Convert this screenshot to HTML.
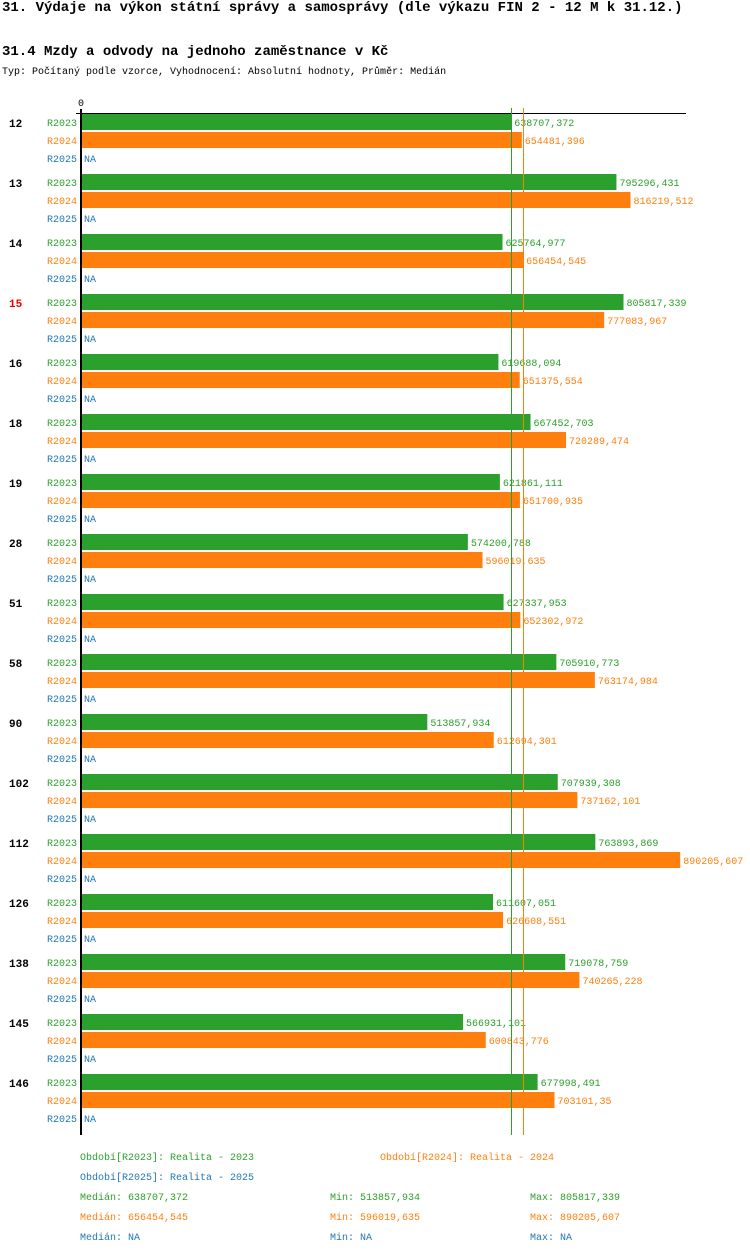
<!DOCTYPE html>
<html><head><meta charset="utf-8"><style>
body{margin:0;background:#fff;width:750px;height:1254px;overflow:hidden;font-family:"Liberation Mono","DejaVu Sans Mono",monospace}
.t{position:absolute;white-space:nowrap}
</style></head><body>
<div class="t" style="left:2px;top:0px;font-size:14px;font-weight:bold">31. Výdaje na výkon státní správy a samosprávy (dle výkazu FIN 2 - 12 M k 31.12.)</div>
<div class="t" style="left:2px;top:44px;font-size:14px;font-weight:bold">31.4 Mzdy a odvody na jednoho zaměstnance v Kč</div>
<div class="t" style="left:2px;top:67px;font-size:10px">Typ: Počítaný podle vzorce, Vyhodnocení: Absolutní hodnoty, Průměr: Medián</div>
<svg id="c" width="750" height="1254" style="position:absolute;left:0;top:0" font-family="Liberation Mono, DejaVu Sans Mono, monospace" font-size="11"></svg>
<script>
const categories=["12","13","14","15","16","18","19","28","51","58","90","102","112","126","138","145","146"];
const r2023=[638707.372,795296.431,625764.977,805817.339,619688.094,667452.703,621861.111,574200.788,627337.953,705910.773,513857.934,707939.308,763893.869,611607.051,719078.759,566931.101,677998.491];
const r2024=[654481.396,816219.512,656454.545,777083.967,651375.554,720289.474,651700.935,596019.635,652302.972,763174.984,612694.301,737162.101,890205.607,626608.551,740265.228,600843.776,703101.35];
const r2023Labels=["638707,372","795296,431","625764,977","805817,339","619688,094","667452,703","621861,111","574200,788","627337,953","705910,773","513857,934","707939,308","763893,869","611607,051","719078,759","566931,101","677998,491"];
const r2024Labels=["654481,396","816219,512","656454,545","777083,967","651375,554","720289,474","651700,935","596019,635","652302,972","763174,984","612694,301","737162,101","890205,607","626608,551","740265,228","600843,776","703101,35"];
const medians=[638707.372,656454.545];
const ns="http://www.w3.org/2000/svg";
const svg=document.getElementById('c');
const X0=82,K=0.000672;
const x=v=>X0+v*K;
const gy=i=>114+i*60;
function el(tag,attrs,txt){const e=document.createElementNS(ns,tag);for(const k in attrs)e.setAttribute(k,attrs[k]);if(txt!==undefined)e.textContent=txt;svg.appendChild(e);return e;}
const G="#2ca02c",O="#ff7f0e",B="#1f77b4";
let e=el('rect',{x:76,y:113,width:610,height:1,fill:"#000"});


e=el('text',{x:78,y:106,"font-size":10},"0");


categories.forEach((c,i)=>{
 const y=gy(i);
 e=el('text',{x:9,y:y+13,"font-weight":"bold",fill:c==="15"?"#e00":"#000"},c);
 
 
 [[r2023[i],r2023Labels[i],G,"R2023",0],[r2024[i],r2024Labels[i],O,"R2024",18]].forEach(([v,l,col,s,dy])=>{
  e=el('text',{x:47,y:y+dy+12,fill:col,"font-size":10},s);
  
  
  e=el('rect',{x:X0,y:y+dy,width:x(v)-X0,height:16,fill:col});
  
  
  e=el('text',{x:x(v)+3,y:y+dy+12,fill:col,"font-size":10},l);
  
  
 });
 e=el('text',{x:47,y:y+48,fill:B,"font-size":10},"R2025");
 
 
 e=el('text',{x:84,y:y+48,fill:B,"font-size":10},"NA");
 
 
});
[[medians[0],G],[medians[1],O]].forEach(([m,col])=>{
 e=el('rect',{x:Math.round(x(m)),y:108,width:1,height:1027,fill:col});
 
 
});
e=el('rect',{x:80,y:109,width:2,height:1026,fill:"#000"});


const leg=[[80,1160,G,"Období[R2023]: Realita - 2023"],[380,1160,O,"Období[R2024]: Realita - 2024"],[80,1180,B,"Období[R2025]: Realita - 2025"],
[80,1200,G,"Medián: 638707,372"],[330,1200,G,"Min: 513857,934"],[530,1200,G,"Max: 805817,339"],
[80,1220,O,"Medián: 656454,545"],[330,1220,O,"Min: 596019,635"],[530,1220,O,"Max: 890205,607"],
[80,1240,B,"Medián: NA"],[330,1240,B,"Min: NA"],[530,1240,B,"Max: NA"]];
leg.forEach(([lx,ly,col,t])=>{
 e=el('text',{x:lx,y:ly,fill:col,"font-size":10},t);
 
 
});
</script>
</body></html>
